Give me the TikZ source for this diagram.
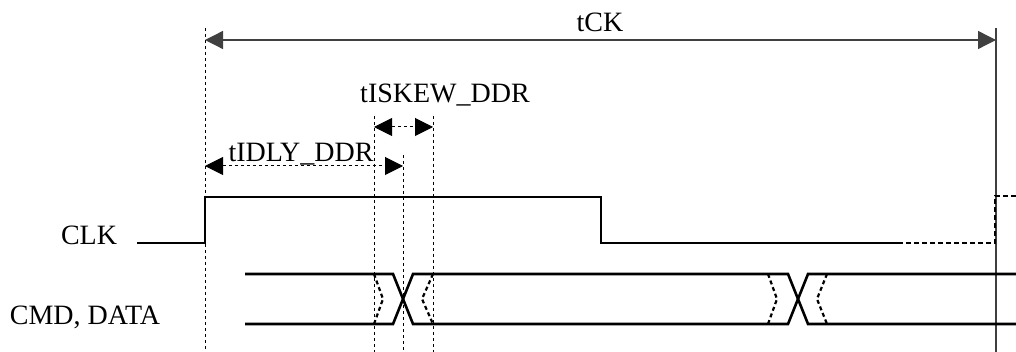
\documentclass[tikz,border=0pt]{standalone}
\usepackage{fontspec}
\setmainfont{Liberation Serif}
\usetikzlibrary{
  arrows.meta
}

\begin{document}
\begin{tikzpicture}[
    x=1pt,
    y=-1pt,
    font=\fontsize{28}{33}\selectfont,
    signal/.style={line width=2.6pt},
    uncertain/.style={line width=2.6pt,dash pattern=on 5pt off 3pt},
    guide/.style={line width=1pt,dash pattern=on 3pt off 3pt},
    span/.style={{Triangle[length=18pt,width=18pt]}-{Triangle[length=18pt,width=18pt]}},
    dimline/.style={span,line width=1pt,dash pattern=on 3pt off 3pt},
    lbl/.style={anchor=base,inner sep=0pt},
  ]
  \useasboundingbox (0,0) rectangle (1016,352);

  \coordinate (edgetop) at (205,28);
  \coordinate (edgebot) at (205,352);
  \coordinate (endtop) at (996,28);
  \coordinate (endbot) at (996,352);
  \coordinate (skewatop) at (374,116);
  \coordinate (skewabot) at (374,352);
  \coordinate (skewbtop) at (433,116);
  \coordinate (skewbbot) at (433,352);
  \coordinate (dlytop) at (403,155);
  \coordinate (dlybot) at (403,352);

  \draw[guide] (edgetop) -- (edgebot);
  \draw[guide] (skewatop) -- (skewabot);
  \draw[guide] (skewbtop) -- (skewbbot);
  \draw[guide] (dlytop) -- (dlybot);
  \draw[line width=1.3pt,black!75] (endtop) -- (endbot);

  \coordinate (ckl) at (205,40);
  \coordinate (ckr) at (996,40);
  \draw[span,line width=1.3pt,black!75] (ckl) -- (ckr);
  \node[lbl] (tck) at (600,32) {tCK};

  \coordinate (skl) at (374,127);
  \coordinate (skr) at (433,127);
  \draw[dimline] (skl) -- (skr);
  \node[lbl] (tiskew) at (445,103) {tISKEW\_DDR};

  \coordinate (dll) at (205,166);
  \coordinate (dlr) at (403,166);
  \draw[dimline] (dll) -- (dlr);
  \node[lbl] (tidly) at (301,162) {tIDLY\_DDR};

  \node[lbl] (clk) at (89,245) {CLK};
  \node[lbl] (cmd) at (85,324) {CMD, DATA};

  \coordinate (clkstart) at (137,243);
  \coordinate (clkrise) at (205,197);
  \coordinate (clkfall) at (601,243);
  \coordinate (clklow) at (898,243);
  \coordinate (clknext) at (995,196);
  \coordinate (clkend) at (1016,196);
  \draw[signal] (clkstart) -| (clkrise) -| (clkfall) -- (clklow);
  \draw[uncertain] (clklow) -| (clknext) -- (clkend);

  \draw[signal] (245,274) -- (393,274) -- (413,324) -- (788,324) -- (808,274) -- (1016,274);
  \draw[signal] (245,324) -- (393,324) -- (413,274) -- (788,274) -- (808,324) -- (1016,324);

  \foreach \x/\d in {374/9,433/-11,768/9,827/-10}
    \draw[uncertain,line width=2.2pt,dash pattern=on 4pt off 3pt] (\x,274) -- (\x+\d,299) -- (\x,324);
\end{tikzpicture}
\end{document}
